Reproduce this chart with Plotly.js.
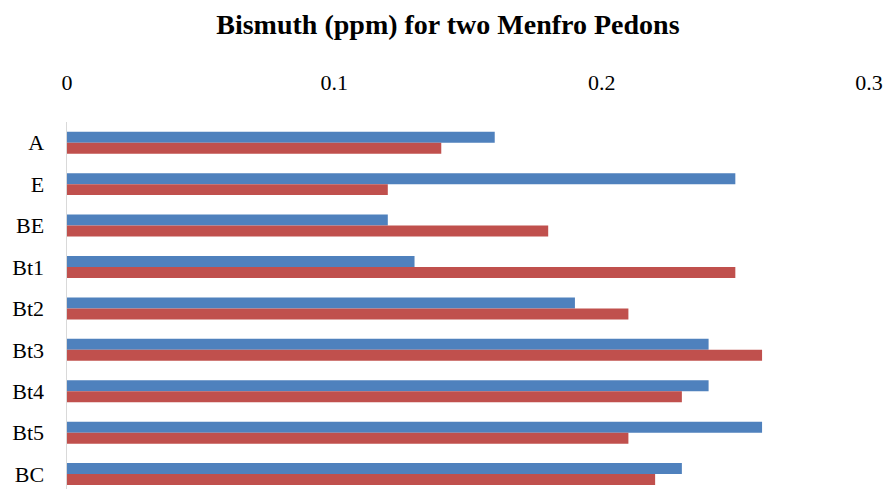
<!DOCTYPE html>
<html>
<head>
<meta charset="utf-8">
<script src="https://cdn.plot.ly/plotly-3.0.1.min.js"></script>
<style>html,body{margin:0;padding:0;background:#fff;}#chart{width:887px;height:489px;}</style>
</head>
<body>
<div id="chart"></div>
<script>
const categories = ["A", "E", "BE", "Bt1", "Bt2", "Bt3", "Bt4", "Bt5", "BC"];
const pedon1 = [0.16, 0.25, 0.12, 0.13, 0.19, 0.24, 0.24, 0.26, 0.23];
const pedon2 = [0.14, 0.12, 0.18, 0.25, 0.21, 0.26, 0.23, 0.21, 0.22];
const tickVals = [0, 0.1, 0.2, 0.3];
const tickText = ["0", "0.1", "0.2", "0.3"];

const data = [
  {type: "bar", orientation: "h", name: "Pedon 1", y: categories, x: pedon1, marker: {color: "#4F81BD"}},
  {type: "bar", orientation: "h", name: "Pedon 2", y: categories, x: pedon2, marker: {color: "#C0504D"}}
];
const serif = "Liberation Serif";
const layout = {
  width: 887, height: 489,
  margin: {l: 67, r: 18, t: 122, b: 0},
  paper_bgcolor: "#fff", plot_bgcolor: "#fff",
  showlegend: false,
  barmode: "group", bargap: 0.47, bargroupgap: 0,
  title: {text: "<b>Bismuth (ppm) for two Menfro Pedons</b>", x: 0.505, xanchor: "center", y: 0.95, yanchor: "middle",
          font: {family: serif, size: 28, color: "#000"}},
  xaxis: {side: "top", range: [0, 0.3], tickvals: tickVals, ticktext: tickText,
          showgrid: false, zeroline: false, showline: false,
          ticks: "outside", ticklen: 22, tickcolor: "rgba(0,0,0,0)",
          tickfont: {family: serif, size: 22, color: "#000"}},
  yaxis: {type: "category", range: [8.36, -0.5], showgrid: false, zeroline: false,
          showline: true, linecolor: "#d9d9d9", linewidth: 1.5,
          ticks: "outside", ticklen: 17, tickcolor: "rgba(0,0,0,0)",
          tickfont: {family: serif, size: 22, color: "#000"}}
};
Plotly.newPlot("chart", data, layout, {displayModeBar: false, staticPlot: true});
</script>
</body>
</html>
